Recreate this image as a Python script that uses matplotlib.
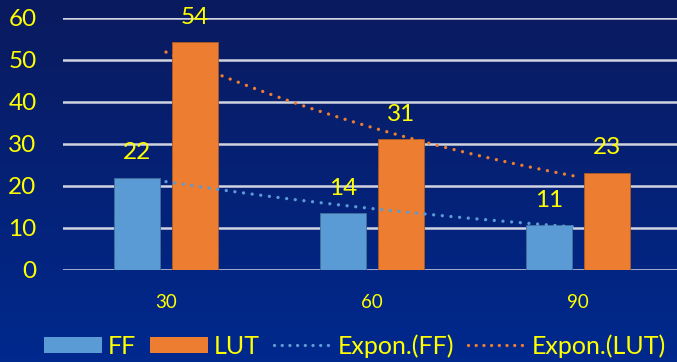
import numpy as np
import matplotlib
matplotlib.use('Agg')
import matplotlib.pyplot as plt
from matplotlib.colors import LinearSegmentedColormap
from matplotlib.patches import Patch
from matplotlib.lines import Line2D

# data
categories = ['30', '60', '90']
ff = [21.9, 13.5, 10.6]
lut = [54.2, 31.1, 23.2]
ff_labels = ['22', '14', '11']
lut_labels = ['54', '31', '23']

c_ff = '#5B9BD5'
c_lut = '#ED7D31'
yellow = '#FFFF00'

fig = plt.figure(figsize=(6.77, 3.62), dpi=100)

# background gradient
bg = fig.add_axes([0, 0, 1, 1], zorder=-10)
grad = np.linspace(0, 1, 256).reshape(-1, 1)
cmap = LinearSegmentedColormap.from_list('bg', ['#0a1a5e', '#00298e'])
bg.imshow(grad, aspect='auto', cmap=cmap, extent=[0, 1, 0, 1], origin='upper')
bg.axis('off')

# axes placed so category centres land at x=166,372,578 px and y 0..60 at 270..18 px
ax = fig.add_axes([63 / 677, 92 / 362, 618 / 677, 252 / 362])
ax.patch.set_alpha(0)

x = np.arange(len(categories))
w = 0.225
off = 0.14
ax.bar(x - off, ff, w, color=c_ff, edgecolor='#41719C', linewidth=0.6, zorder=3)
ax.bar(x + off, lut, w, color=c_lut, edgecolor='#AE5A21', linewidth=0.6, zorder=3)

for xi, v, s in zip(x, ff, ff_labels):
    ax.text(xi - off, v + 3.5, s, ha='center', va='bottom', color=yellow,
            fontsize=17.5, family='Lato')
for xi, v, s in zip(x, lut, lut_labels):
    ax.text(xi + off, v + 3.5, s, ha='center', va='bottom', color=yellow,
            fontsize=17.5, family='Lato')

# exponential trendlines (least squares on log values, like the spreadsheet)
xs = np.linspace(0, 2, 100)
for vals, col in [(ff, c_ff), (lut, c_lut)]:
    b, a = np.polyfit(x + 1, np.log(vals), 1)
    ax.plot(xs, np.exp(a + b * (xs + 1)), color=col, linewidth=2.4,
            linestyle=(0, (0.01, 2.6)), dash_capstyle='round', zorder=4)

ax.set_xlim(-0.5, 2.5)
ax.set_ylim(0, 60)
ax.set_yticks(range(0, 61, 10))
ax.set_xticks(x)
ax.set_xticklabels(categories)
ax.yaxis.grid(True, color='#D0D4E0', linewidth=1.8, zorder=0)
ax.set_axisbelow(True)
for sp in ax.spines.values():
    sp.set_visible(False)
ax.tick_params(axis='both', length=0, colors=yellow)
ax.tick_params(axis='y', labelsize=17.5, pad=19)
ax.tick_params(axis='x', labelsize=13.5, pad=17)
for t in ax.get_yticklabels() + ax.get_xticklabels():
    t.set_family('Lato')

handles = [
    Patch(facecolor=c_ff),
    Patch(facecolor=c_lut),
    Line2D([0], [0], color=c_ff, linewidth=2.4, linestyle=(0, (0.01, 2.3)),
           dash_capstyle='round'),
    Line2D([0], [0], color=c_lut, linewidth=2.4, linestyle=(0, (0.01, 2.3)),
           dash_capstyle='round'),
]
leg = fig.legend(handles, ['FF', 'LUT', 'Expon.(FF)', 'Expon.(LUT)'],
                 loc='center', bbox_to_anchor=(355 / 677, 1 - 346 / 362),
                 ncol=4, frameon=False, prop={'family': 'Lato', 'size': 18},
                 handlelength=2.3, handleheight=0.64, handletextpad=0.25,
                 columnspacing=0.55)
for t in leg.get_texts():
    t.set_color(yellow)

fig.savefig('out.png', dpi=100)
